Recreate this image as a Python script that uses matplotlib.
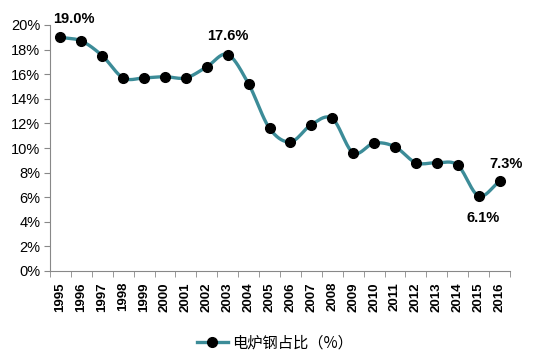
import numpy as np
import matplotlib
matplotlib.use("Agg")
import matplotlib.pyplot as plt
from matplotlib.lines import Line2D

plt.rcParams['font.family'] = ['Liberation Sans', 'Noto Sans CJK SC', 'DejaVu Sans']

years = [str(y) for y in range(1995, 2017)]
values = [19.0, 18.7, 17.5, 15.7, 15.7, 15.8, 15.7, 16.6, 17.6, 15.2, 11.6,
          10.5, 11.9, 12.4, 9.6, 10.4, 10.1, 8.8, 8.8, 8.6, 6.1, 7.3]
label_name = "电炉钢占比（%）"
annot_idx = [0, 8, 20, 21]

line_color = "#3C8C98"

fig = plt.figure(figsize=(5.5, 3.62), dpi=100)
ax = fig.add_axes([50/550, 1-271/362, 460/550, (271-25)/362])

x = np.arange(len(values))
y = np.array(values)

# Catmull-Rom smoothing through the data points
def catmull(xp, yp, n=20):
    px = np.concatenate([[2*xp[0]-xp[1]], xp, [2*xp[-1]-xp[-2]]])
    py = np.concatenate([[2*yp[0]-yp[1]], yp, [2*yp[-1]-yp[-2]]])
    xs, ys = [], []
    for i in range(1, len(px)-2):
        t = np.linspace(0, 1, n, endpoint=False)
        for arr, out in ((px, xs), (py, ys)):
            p0, p1, p2, p3 = arr[i-1], arr[i], arr[i+1], arr[i+2]
            out.extend(0.5*((2*p1) + (-p0+p2)*t + (2*p0-5*p1+4*p2-p3)*t**2 + (-p0+3*p1-3*p2+p3)*t**3))
    xs.append(xp[-1]); ys.append(yp[-1])
    return np.array(xs), np.array(ys)

sx, sy = catmull(x.astype(float), y)
ax.plot(sx, sy, color=line_color, lw=2.4, zorder=2, clip_on=False)
ax.plot(x, y, 'o', color='black', ms=7, zorder=3, clip_on=False)

offsets = {0: (10, 8, 'bottom'), 8: (0, 8, 'bottom'), 20: (3, -11, 'top'), 21: (5, 7, 'bottom')}
for i in annot_idx:
    v = values[i]
    dx, dy, va = offsets[i]
    ax.annotate(f"{v:.1f}%", (x[i], v), xytext=(dx, dy), textcoords='offset points',
                ha='center', va=va, fontsize=10.5, fontweight='bold', family='Liberation Sans')

ax.set_xlim(-0.5, len(values)-0.5)
ax.set_ylim(0, 20)
ax.set_yticks(np.arange(0, 21, 2))
ax.set_yticklabels([f"{v}%" for v in range(0, 21, 2)], fontsize=10.5, family='Liberation Sans')
ax.set_xticks(x)
ax.set_xticklabels(years, rotation=90, fontsize=9.5, fontweight='bold', family='Liberation Sans')
ax.set_xticks(np.arange(-0.5, len(values), 1), minor=True)
ax.tick_params(axis='x', which='major', length=0, pad=8)
ax.tick_params(axis='x', which='minor', length=4, color='#888888', direction='out')
ax.tick_params(axis='y', length=4, color='#888888', direction='out', pad=3)
for s in ['top', 'right']:
    ax.spines[s].set_visible(False)
for s in ['left', 'bottom']:
    ax.spines[s].set_color('#888888')

handle = Line2D([], [], color=line_color, lw=2.4, marker='o', markerfacecolor='black',
                markeredgecolor='black', ms=7)
fig.legend([handle], [label_name], loc='center', bbox_to_anchor=(0.5, 1-343/362),
           frameon=False, prop={'family': ['Noto Sans CJK SC'], 'size': 11},
           handlelength=2.0, handletextpad=0.3)

fig.savefig("out.png", dpi=100, facecolor='white')
